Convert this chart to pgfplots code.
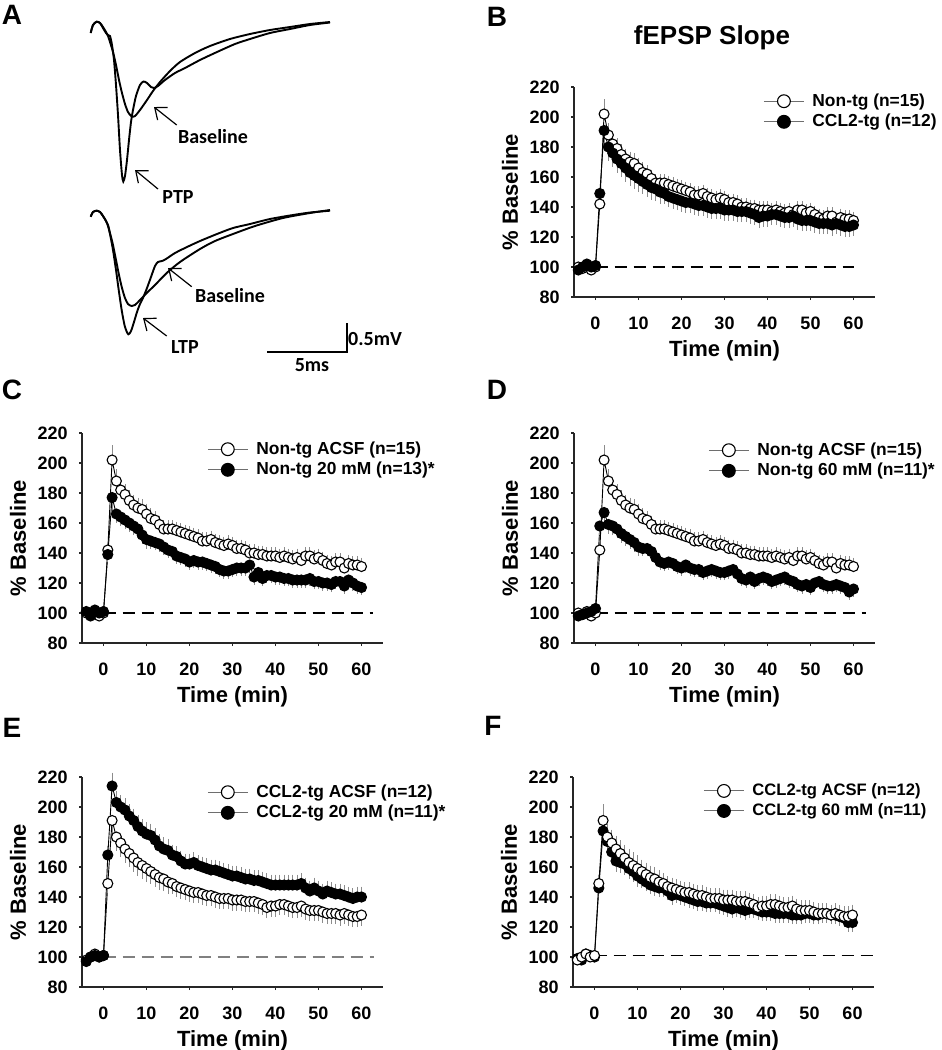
\documentclass[border=0pt]{standalone}
\usepackage{fontspec}
\setmainfont{Liberation Sans}
\newfontfamily\calib{Carlito}
\usepackage{pgfplots}
\usepackage{pgfplotstable}
\pgfplotsset{compat=1.18}
\usetikzlibrary{arrows.meta}

\definecolor{errgray}{HTML}{8C8C8C}
\definecolor{leggray}{HTML}{6E6E6E}

% t = min, y = % baseline, e = SEM
\pgfplotstableread{
t y e
-4 100 1
-3 99 1
-2 101 1
-1 98 1
0 100 1
1 142 3
2 202 8
3 188 6
4 182 5
5 179 5
6 175 5
7 172 5
8 170 5
9 169 5
10 166 5
11 163 5
12 162 4
13 159 4
14 156 4
15 156 4
16 156 4
17 155 4
18 154 4
19 153 4
20 152 4
21 151 4
22 150 4
23 148 4
24 148 4
25 149 4
26 147 4
27 146 4
28 145 4
29 146 4
30 145 4
31 143 4
32 143 4
33 142 4
34 140 4
35 140 4
36 139 4
37 139 4
38 138 4
39 138 4
40 138 4
41 137 4
42 138 4
43 137 4
44 136 4
45 137 4
46 135 4
47 138 4
48 138 4
49 136 4
50 137 4
51 135 4
52 133 4
53 132 4
54 134 4
55 134 4
56 130 4
57 133 4
58 132 4
59 132 4
60 131 4
}\ntacsf

\pgfplotstableread{
t y e
-4 98 1
-3 100 1
-2 102 1
-1 100 1
0 101 1
1 149 4
2 191 9
3 180 7
4 176 7
5 172 7
6 169 7
7 166 7
8 163 7
9 161 7
10 159 7
11 157 6
12 155 6
13 153 6
14 152 6
15 150 6
16 149 5
17 147 5
18 146 5
19 145 5
20 144 5
21 143 5
22 143 5
23 142 5
24 141 5
25 141 5
26 140 5
27 139 5
28 139 5
29 139 5
30 138 5
31 138 5
32 138 5
33 137 5
34 137 5
35 137 5
36 136 5
37 135 5
38 133 5
39 134 5
40 134 5
41 135 5
42 135 5
43 134 5
44 133 5
45 133 5
46 134 5
47 132 5
48 131 5
49 131 5
50 131 5
51 130 5
52 129 5
53 129 5
54 129 5
55 128 5
56 129 5
57 128 5
58 127 5
59 127 5
60 128 5
}\ccacsf

\pgfplotstableread{
t y e
-4 101 1
-3 98 1
-2 102 1
-1 100 1
0 101 1
1 139 3
2 177 6
3 166 4
4 164 4
5 162 4
6 160 4
7 158 4
8 156 4
9 152 4
10 149 4
11 148 3
12 147 3
13 146 3
14 144 3
15 142 3
16 141 3
17 138 3
18 137 3
19 136 3
20 134 3
21 135 3
22 134 3
23 134 3
24 133 3
25 132 3
26 131 3
27 129 3
28 128 3
29 128 3
30 129 3
31 130 3
32 130 3
33 130 3
34 132 3
35 124 3
36 127 3
37 123 3
38 125 3
39 125 3
40 124 3
41 124 3
42 123 3
43 123 3
44 122 3
45 122 3
46 122 3
47 122 3
48 123 3
49 121 3
50 121 3
51 120 3
52 120 3
53 119 3
54 121 3
55 121 3
56 118 3
57 122 3
58 120 3
59 118 3
60 117 3
}\nttwenty

\pgfplotstableread{
t y e
-4 98 1
-3 99 1
-2 100 1
-1 101 1
0 103 1
1 158 4
2 167 5
3 159 4
4 158 4
5 156 4
6 153 4
7 151 4
8 149 4
9 147 4
10 144 4
11 143 3
12 143 3
13 141 3
14 137 3
15 134 3
16 133 3
17 134 3
18 133 3
19 131 3
20 130 3
21 132 3
22 130 3
23 129 3
24 129 3
25 127 3
26 128 3
27 129 3
28 128 3
29 127 3
30 127 3
31 128 3
32 129 3
33 126 3
34 123 3
35 122 3
36 124 3
37 121 3
38 123 3
39 124 3
40 123 3
41 121 3
42 122 3
43 123 3
44 124 3
45 122 3
46 121 3
47 119 3
48 118 3
49 119 3
50 117 3
51 120 3
52 121 3
53 119 3
54 118 3
55 118 3
56 119 3
57 118 3
58 117 3
59 114 3
60 116 3
}\ntsixty

\pgfplotstableread{
t y e
-4 97 1
-3 100 1
-2 101 1
-1 100 1
0 101 1
1 168 4
2 214 7
3 203 6
4 200 6
5 198 6
6 194 6
7 191 6
8 187 6
9 184 6
10 182 6
11 181 6
12 178 6
13 174 6
14 172 6
15 171 6
16 168 5
17 167 5
18 164 5
19 162 5
20 162 5
21 163 5
22 161 5
23 160 5
24 159 5
25 158 5
26 158 5
27 157 5
28 156 5
29 155 5
30 154 5
31 154 5
32 153 5
33 152 5
34 152 5
35 151 5
36 151 5
37 150 5
38 149 5
39 148 5
40 148 5
41 148 5
42 148 5
43 148 5
44 148 5
45 148 5
46 149 5
47 146 5
48 144 5
49 146 5
50 144 5
51 142 5
52 144 5
53 143 5
54 142 5
55 142 5
56 141 5
57 140 5
58 139 5
59 140 5
60 140 5
}\cctwenty

\pgfplotstableread{
t y e
-4 99 1
-3 98 1
-2 102 1
-1 101 1
0 100 1
1 146 4
2 184 6
3 177 5
4 170 5
5 164 5
6 163 5
7 162 5
8 159 5
9 157 5
10 154 5
11 152 4
12 150 4
13 148 4
14 147 4
15 146 4
16 146 4
17 144 4
18 141 4
19 142 4
20 141 4
21 140 4
22 139 4
23 138 4
24 137 4
25 137 4
26 136 4
27 136 4
28 136 4
29 135 4
30 134 4
31 133 4
32 132 4
33 133 4
34 132 4
35 131 4
36 132 4
37 132 4
38 131 4
39 130 4
40 130 4
41 130 4
42 129 4
43 129 4
44 129 4
45 129 4
46 128 4
47 128 4
48 128 4
49 129 4
50 129 4
51 128 4
52 128 4
53 129 4
54 129 4
55 128 4
56 128 4
57 127 4
58 126 4
59 123 4
60 123 4
}\ccsixty

\pgfplotsset{
  legend image code/.code={
    \draw[leggray, line width=0.5pt] (0pt,0pt) -- (20pt,0pt);
    \draw[#1, mark size=3.2pt] plot coordinates {(10pt,0pt)};
  },
  ltp/.style={
    scale only axis, width=150.5pt, height=105pt,
    xmin=-5, xmax=65, ymin=80, ymax=220, enlargelimits=false,
    axis x line*=bottom, axis y line*=left,
    axis line style={-, line width=0.6pt, black!85},
    xtick={0,10,...,60}, ytick={80,100,...,220},
    tick align=outside, major tick length=1.5pt,
    tick style={line width=0.6pt, black!85},
    /pgf/number format/assume math mode=true,
    ticklabel style={font=\bfseries\fontsize{9}{10}\selectfont},
    xticklabel style={inner sep=0pt, anchor=north, yshift=-8.2pt},
    yticklabel style={inner sep=0pt, anchor=east, xshift=-5.5pt},
    xlabel={Time (min)}, ylabel={\% Baseline},
    label style={font=\bfseries\fontsize{11}{13}\selectfont},
    xlabel style={at={(axis description cs:0.5,-0.258)}, anchor=center},
    ylabel style={at={(axis description cs:-0.2126,0.5)}, anchor=center},
    legend cell align=left,
    legend style={draw=none, fill=none, anchor=north west, inner sep=0pt,
      row sep=0.5pt, column sep=3pt, nodes={inner sep=1pt},
      font=\bfseries\fontsize{8.7}{11}\selectfont},
    clip=false,
  },
  errs/.style={
    error bars/y explicit,
    error bars/error bar style={errgray, line width=0.4pt},
    error bars/error mark options={errgray, mark size=1.5pt, line width=0.4pt}},
  opn/.style={black, line width=0.45pt, mark=*, mark size=2.5pt,
    mark options={fill=white, line width=0.55pt}, errs},
  fil/.style={black, line width=0.45pt, mark=*, mark size=2.5pt,
    mark options={fill=black, line width=0.55pt}, errs},
  base/.style={black, line width=0.6pt, dash pattern=on 6pt off 3.5pt, forget plot},
}

\begin{document}
\begin{tikzpicture}
\useasboundingbox (0,0) rectangle (471pt,-525pt);

% overlay frame in pixel units: panel A, letters, title
\begin{axis}[at={(0pt,0pt)}, anchor=north west, scale only axis,
  x=0.5pt, y=0.5pt, y dir=reverse, xmin=0, xmax=942, ymin=0, ymax=1050,
  hide axis, clip=false]
% top pair: baseline and PTP
\addplot[black, line width=0.95pt, smooth, tension=0.45] coordinates {
(90.7,33) (93,25) (96.7,21.7) (100,23) (103,27) (106,32) (108,36) (110,42)
(113,52) (116,65) (119,80) (122,93) (125,104) (128,112) (131.7,116.5)
(135,116) (140,110) (147,100) (153,91) (160,82) (170,71) (180,62) (195,53)
(210,46) (230,39) (250,34) (270,30) (290,27) (310,24) (330,22)};
\addplot[black, line width=0.95pt, smooth, tension=0.45] coordinates {
(90.7,33) (93,25) (96.7,21.7) (100,23) (103,28) (106,33) (108,35) (110,36)
(112,45) (114,60) (116,85) (118,115) (120,150) (122,175) (123.3,181.5)
(125,176) (127,160) (129,140) (131,122) (133,110) (136,96) (140,85)
(143.5,81.5) (147,83) (151,87) (154,88) (158,86) (165,80) (175,73) (185,68)
(200,60) (217,52) (235,44) (250,39) (270,33) (290,29) (310,25) (330,22.5)};
% bottom pair: baseline and LTP
\addplot[black, line width=0.95pt, smooth, tension=0.45] coordinates {
(90.7,216.7) (93,212) (96.7,210.7) (100,212) (103,216) (106,221) (108,225)
(110,233) (113,245) (116,260) (119,275) (122,288) (125,298) (128,304)
(131.7,306) (135,305) (140,300) (146.7,293) (155,285) (166.7,273) (180,262)
(200,249) (215,241) (233,234) (255,226) (283,218) (310,213) (330,210)};
\addplot[black, line width=0.95pt, smooth, tension=0.45] coordinates {
(90.7,216.7) (93,212) (96.7,210.7) (100,212) (103,216) (106,221) (108,226)
(110,234) (113,250) (116,270) (119,292) (122,312) (125,327) (128.3,334.3)
(131,331) (134,322) (137,312) (140,304) (143,298) (147,288) (151,277)
(155,266) (158,262) (162,261) (166,259) (175,253) (187,247) (200,241)
(217,234) (233,228) (250,224) (270,219) (293,215) (310,212.5) (330,210.7)};
% scale bar
\addplot[black, line width=0.7pt] coordinates {(267,352) (347,352) (347,323)};

\begin{scope}[font=\calib\bfseries\fontsize{10}{12}\selectfont]
\draw[-{Straight Barb[length=5pt,width=8pt]}, line width=0.6pt] (176.7,125) -- (154,107);
\node at (213,137) {Baseline};
\draw[-{Straight Barb[length=5pt,width=8pt]}, line width=0.6pt] (158,189) -- (135,170);
\node at (178,197) {PTP};
\draw[-{Straight Barb[length=5pt,width=8pt]}, line width=0.6pt] (191.7,286.7) -- (168,268);
\node at (230,296) {Baseline};
\draw[-{Straight Barb[length=5pt,width=8pt]}, line width=0.6pt] (166.7,336) -- (143,318);
\node at (185,347) {LTP};
\node at (375,339) {0.5mV};
\node at (312,365) {5ms};
\end{scope}

\begin{scope}[font=\bfseries\fontsize{14}{16}\selectfont]
\node at (12,15) {A};
\node at (497,17) {B};
\node at (12,390) {C};
\node at (497,390) {D};
\node at (12,728) {E};
\node at (493,726) {F};
\end{scope}
\node[font=\bfseries\fontsize{13}{15}\selectfont] at (712,38) {fEPSP Slope};
\end{axis}

% B
\begin{axis}[ltp, at={(287pt,-43.5pt)}, anchor=north west,
  legend style={at={(axis description cs:0.628,1)}, yshift=-2pt}]
\addplot[base] coordinates {(0,100) (60,100)};
\addplot[opn, error bars/y dir=plus] table[x=t, y=y, y error=e] {\ntacsf};
\addplot[fil, error bars/y dir=minus] table[x=t, y=y, y error=e] {\ccacsf};
\legend{Non-tg (n=15), CCL2-tg (n=12)}
\end{axis}

% C
\begin{axis}[ltp, at={(41pt,-216.5pt)}, anchor=north west,
  legend style={at={(axis description cs:0.415,1)}, yshift=-3pt}]
\addplot[base] coordinates {(0,100) (62.7,100)};
\addplot[opn, error bars/y dir=plus] table[x=t, y=y, y error=e] {\ntacsf};
\addplot[fil, error bars/y dir=minus] table[x=t, y=y, y error=e] {\nttwenty};
\legend{Non-tg ACSF (n=15), Non-tg 20 mM (n=13)*}
\end{axis}

% D
\begin{axis}[ltp, at={(287pt,-216.5pt)}, anchor=north west,
  legend style={at={(axis description cs:0.445,1)}, yshift=-3.5pt}]
\addplot[base] coordinates {(0,100) (63,100)};
\addplot[opn, error bars/y dir=plus] table[x=t, y=y, y error=e] {\ntacsf};
\addplot[fil, error bars/y dir=minus] table[x=t, y=y, y error=e] {\ntsixty};
\legend{Non-tg ACSF (n=15), Non-tg 60 mM (n=11)*}
\end{axis}

% E
\begin{axis}[ltp, at={(41pt,-388.5pt)}, anchor=north west,
  legend style={at={(axis description cs:0.415,1)}, yshift=-2.5pt}]
\addplot[base, draw=gray] coordinates {(0,100) (63,100)};
\addplot[opn, error bars/y dir=minus] table[x=t, y=y, y error=e] {\ccacsf};
\addplot[fil, error bars/y dir=plus] table[x=t, y=y, y error=e] {\cctwenty};
\legend{CCL2-tg ACSF (n=12), CCL2-tg 20 mM (n=11)*}
\end{axis}

% F
\begin{axis}[ltp, at={(286.5pt,-388.5pt)}, anchor=north west, reverse legend,
  legend style={at={(axis description cs:0.432,1)}, yshift=-2pt,
    font=\bfseries\fontsize{8.3}{11}\selectfont}]
\addplot[base] coordinates {(0,101) (65.5,101)};
\addplot[fil, error bars/y dir=minus] table[x=t, y=y, y error=e] {\ccsixty};
\addplot[opn, error bars/y dir=plus] table[x=t, y=y, y error=e] {\ccacsf};
\legend{CCL2-tg 60 mM (n=11), CCL2-tg ACSF (n=12)}
\end{axis}
\end{tikzpicture}
\end{document}
